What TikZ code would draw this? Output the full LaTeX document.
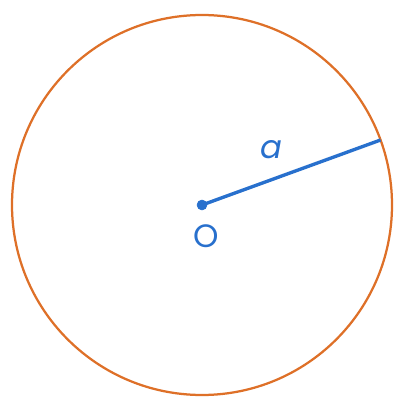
\documentclass[tikz,border=0pt]{standalone}
\usepackage{fontspec}
\setmainfont{Poppins}
\usepackage{xcolor}
\usetikzlibrary{positioning,calc}
\definecolor{rim}{RGB}{222,112,40}
\definecolor{rad}{RGB}{40,112,205}

\begin{document}
\begin{tikzpicture}[x=0.025cm, y=-0.025cm, rimline/.style = {draw=rim, line width=1.6pt}, radline/.style = {draw=rad, line width=2.4pt}, lbl/.style = {text=rad, font=\fontsize{23}{23}\selectfont, inner sep=0pt}]

\useasboundingbox (0,0) rectangle (398,401);
\coordinate (O) at (202,205);
\draw[rimline] (O) circle (190);
\coordinate (A) at ($(O)+(-20:190)$);
\draw[radline] (O) -- (A);
\filldraw[rad] (O) circle (5);

\node[lbl] (a) at (271,150) {\itshape a};
\node[lbl] (o) at (206,236) {O};
\end{tikzpicture}
\end{document}
